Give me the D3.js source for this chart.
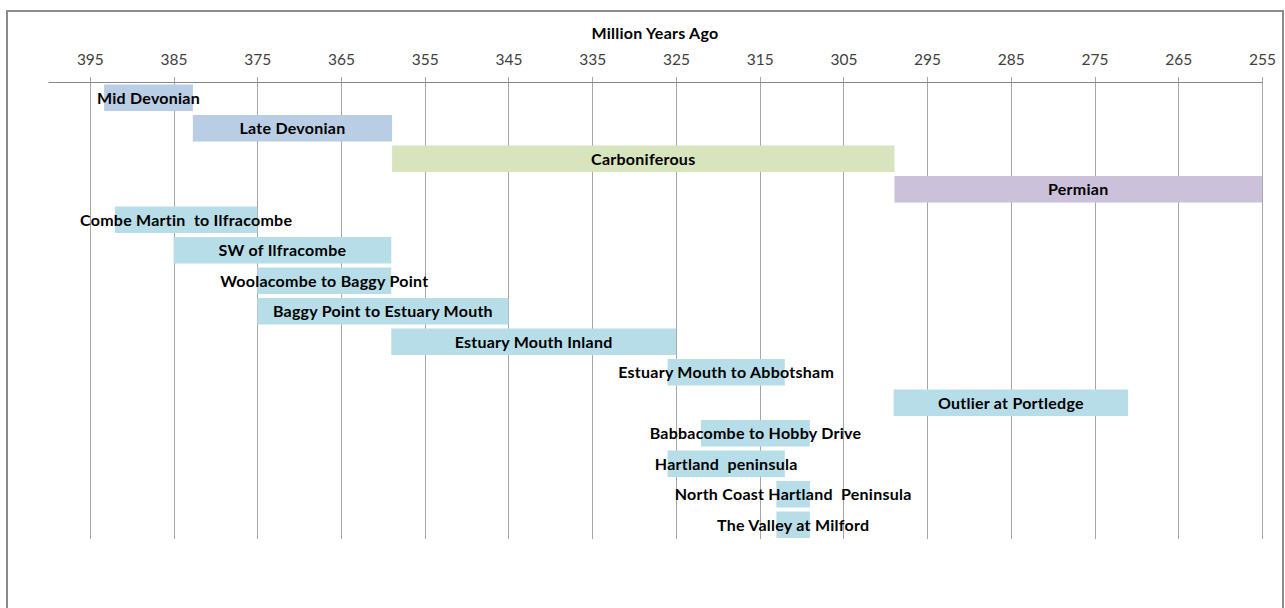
<!DOCTYPE html>
<html lang="en">
<head>
<meta charset="utf-8">
<title>Million Years Ago</title>
<script src="https://d3js.org/d3.v7.min.js"></script>
<style>
  body { margin: 0; background: #fff; }
  svg text { font-family: 'Lato', 'Open Sans', sans-serif; white-space: pre; }
  .tick text { font-size: 15.5px; fill: #404040; }
  .barlabel { font-size: 16px; font-weight: bold; fill: #000; letter-spacing: 0.25px; }
  .title { font-size: 16px; font-weight: bold; fill: #000; letter-spacing: 0.25px; }
</style>
</head>
<body>
<div id="chart"></div>
<script>

// rows, top to bottom
var names = ["Mid Devonian", "Late Devonian", "Carboniferous", "Permian",
  "Combe Martin  to Ilfracombe", "SW of Ilfracombe", "Woolacombe to Baggy Point",
  "Baggy Point to Estuary Mouth", "Estuary Mouth Inland", "Estuary Mouth to Abbotsham",
  "Outlier at Portledge", "Babbacombe to Hobby Drive", "Hartland  peninsula",
  "North Coast Hartland  Peninsula", "The Valley at Milford"];

// start / end in million years ago
var starts = [393.3, 382.7, 358.9, 298.9, 392, 385, 375, 375, 359, 326, 299, 322, 326, 313, 313];
var ends   = [382.7, 358.9, 298.9, 252.2, 375, 359, 359, 345, 325, 312, 271, 309, 312, 309, 309];

// colour group for each row
var groups = ["dev", "dev", "carb", "perm", "loc", "loc", "loc", "loc", "loc", "loc", "loc", "loc", "loc", "loc", "loc"];

var tickValues = [395, 385, 375, 365, 355, 345, 335, 325, 315, 305, 295, 285, 275, 265, 255];

var colours = { dev: "#b9cde5", carb: "#d7e4bd", perm: "#ccc1da", loc: "#b7dee8" };

var W = 1285, H = 608;

var svg = d3.select("#chart")
  .append("svg")
    .attr("width", W)
    .attr("height", H);

// chart frame
svg.append("rect")
  .attr("x", 7).attr("y", 11)
  .attr("width", 1276).attr("height", 610)
  .style("fill", "none")
  .style("stroke", "#8c8c8c")
  .style("stroke-width", 2);

var x = d3.scaleLinear()
  .domain([400, 255])
  .range([48, 1262])
  .clamp(true);

var y = d3.scaleBand()
  .domain(names)
  .range([82.5, 540])
  .paddingInner(0.13)
  .paddingOuter(0.065);

var gridTop = 77, gridBottom = 539, axisY = 82;

// vertical grid lines
svg.append("g")
  .selectAll("line")
  .data(tickValues)
  .enter()
  .append("line")
    .attr("x1", function(d) { return Math.round(x(d)) + 0.5 })
    .attr("x2", function(d) { return Math.round(x(d)) + 0.5 })
    .attr("y1", gridTop)
    .attr("y2", gridBottom)
    .style("stroke", "#a6a6a6")
    .style("stroke-width", 1);

// axis on top
var axis = svg.append("g")
  .attr("transform", "translate(0," + axisY + ")")
  .call(d3.axisTop(x).tickValues(tickValues).tickSize(0).tickPadding(17).tickFormat(d3.format("d")));
axis.select(".domain").style("stroke", "#868686");
axis.selectAll(".tick line").remove();

svg.append("text")
  .attr("class", "title")
  .attr("x", x(327.5))
  .attr("y", 39)
  .attr("text-anchor", "middle")
  .text("Million Years Ago");

var rows = names.map(function(n, i) {
  return { name: n, start: starts[i], end: ends[i], group: groups[i] };
});

// bars
svg.append("g")
  .selectAll("rect")
  .data(rows)
  .enter()
  .append("rect")
    .attr("x", function(d) { return x(d.start) })
    .attr("y", function(d) { return y(d.name) })
    .attr("width", function(d) { return x(d.end) - x(d.start) })
    .attr("height", y.bandwidth())
    .style("fill", function(d) { return colours[d.group] });

// labels centred on bars
svg.append("g")
  .selectAll("text")
  .data(rows)
  .enter()
  .append("text")
    .attr("class", "barlabel")
    .attr("x", function(d) { return (x(d.start) + x(d.end)) / 2 })
    .attr("y", function(d) { return y(d.name) + y.bandwidth() / 2 })
    .attr("dy", "0.36em")
    .attr("text-anchor", "middle")
    .text(function(d) { return d.name });

</script>
</body>
</html>
